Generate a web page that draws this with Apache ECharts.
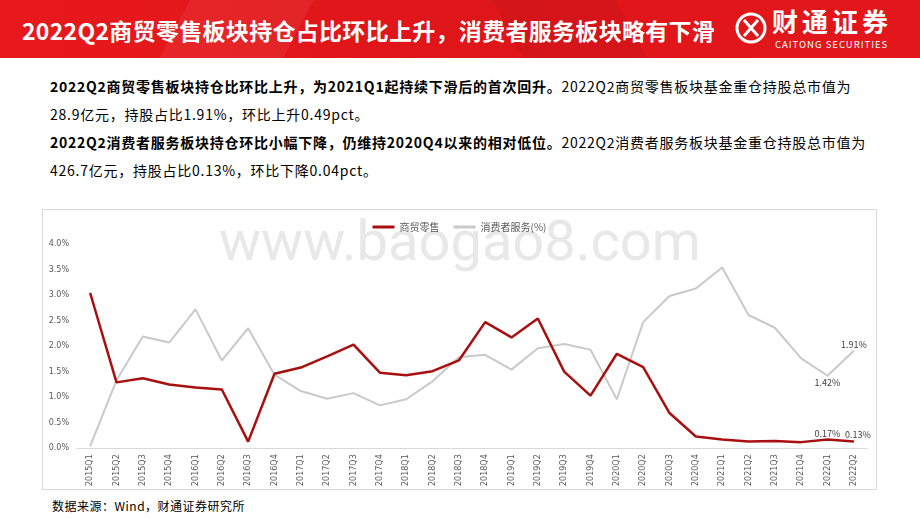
<!DOCTYPE html>
<html>
<head>
<meta charset="utf-8">
<script src="https://cdn.jsdelivr.net/npm/echarts@6/dist/echarts.min.js"></script>
<style>
  html,body{margin:0;padding:0;width:920px;height:518px;overflow:hidden;background:#fff;font-family:"Noto Sans CJK SC","Noto Sans",sans-serif;}
  #header{position:absolute;left:0;top:0;width:920px;height:58px;
    background:
      linear-gradient(118deg, rgba(255,255,255,0) 0%, rgba(255,255,255,0) 20%, rgba(255,255,255,0.06) 20%, rgba(255,255,255,0.06) 33%, rgba(0,0,0,0) 33%),
      linear-gradient(62deg, rgba(0,0,0,0) 55%, rgba(0,0,0,0.05) 55%, rgba(0,0,0,0.05) 68%, rgba(0,0,0,0) 68%),
      linear-gradient(90deg, #e8191c 0%, #de1519 50%, #e3171b 100%);}
  #title{position:absolute;left:22px;top:14px;color:#fff;font-size:23px;font-weight:bold;letter-spacing:0.3px;white-space:nowrap;line-height:32px;}
  #logo{position:absolute;left:734px;top:9px;}
  #logoTxt{position:absolute;left:772px;top:5px;color:#fff;font-size:26px;font-weight:bold;letter-spacing:4px;line-height:32px;}
  #logoEn{position:absolute;left:775px;top:39px;color:#fff;font-size:9.5px;line-height:11px;letter-spacing:1px;}
  #text{position:absolute;left:50px;top:72px;font-size:14px;line-height:28px;letter-spacing:0.75px;color:#000;white-space:nowrap;}
  #text b{font-weight:bold;}
  #box{position:absolute;left:42px;top:209px;width:833px;height:279px;border:1px solid #d9d9d9;}
  #chart{width:833px;height:279px;}
  #src{position:absolute;left:52px;top:497px;font-size:12px;line-height:18px;color:#000;letter-spacing:0.5px;}
</style>
</head>
<body>
<div id="header">
  <div id="title">2022Q2商贸零售板块持仓占比环比上升，消费者服务板块略有下滑</div>
  <svg id="logo" width="34" height="40" viewBox="0 0 34 40">
    <circle cx="17" cy="19" r="14" fill="none" stroke="#fff" stroke-width="3"/>
    <path d="M10 11 L17 19 L10 27 M24 11 L17 19 L24 27" fill="none" stroke="#fff" stroke-width="3"/>
  </svg>
  <div id="logoTxt">财通证券</div>
  <div id="logoEn">CAITONG SECURITIES</div>
</div>
<div id="text">
  <b>2022Q2商贸零售板块持仓比环比上升，为2021Q1起持续下滑后的首次回升。</b>2022Q2商贸零售板块基金重仓持股总市值为<br>
  28.9亿元，持股占比1.91%，环比上升0.49pct。<br>
  <b>2022Q2消费者服务板块持仓环比小幅下降，仍维持2020Q4以来的相对低位。</b>2022Q2消费者服务板块基金重仓持股总市值为<br>
  426.7亿元，持股占比0.13%，环比下降0.04pct。
</div>
<div id="box"><div id="chart"></div></div>
<div id="src">数据来源：Wind，财通证券研究所</div>
<script>
var categories = ['2015Q1','2015Q2','2015Q3','2015Q4','2016Q1','2016Q2','2016Q3','2016Q4',
  '2017Q1','2017Q2','2017Q3','2017Q4','2018Q1','2018Q2','2018Q3','2018Q4',
  '2019Q1','2019Q2','2019Q3','2019Q4','2020Q1','2020Q2','2020Q3','2020Q4',
  '2021Q1','2021Q2','2021Q3','2021Q4','2022Q1','2022Q2'];
var retail = [3.04,1.29,1.37,1.25,1.19,1.15,0.13,1.46,1.58,1.80,2.03,1.48,1.43,1.51,1.72,2.47,
  2.17,2.54,1.50,1.03,1.85,1.59,0.69,0.23,0.17,0.13,0.14,0.12,0.17,0.13];
var consumer = [0.04,1.33,2.19,2.07,2.72,1.72,2.35,1.44,1.12,0.97,1.08,0.84,0.96,1.31,1.78,1.83,
  1.54,1.96,2.04,1.93,0.96,2.47,2.98,3.13,3.54,2.61,2.36,1.76,1.42,1.91];
var yTicks = [0,0.5,1,1.5,2,2.5,3,3.5,4];
var seriesNames = ['商贸零售','消费者服务(%)'];

function withLabels(arr, cfg){
  return arr.map(function(v,i){
    var c = cfg[i];
    if(!c) return v;
    return {value:v, label:Object.assign({show:true, formatter:function(p){return p.value.toFixed(2)+'%';},
      color:'#404040', fontSize:9, fontFamily:'"Noto Sans CJK SC", sans-serif'}, c)};
  });
}
var n = categories.length;
var retailCfg = {}; retailCfg[n-2] = {position:'top', distance:1}; retailCfg[n-1] = {position:'top', distance:2, offset:[4,0]};
var consCfg = {}; consCfg[n-2] = {position:'bottom', distance:2}; consCfg[n-1] = {position:'top', distance:1};

var chart = echarts.init(document.getElementById('chart'), null, {renderer:'canvas'});
chart.setOption({
  animation:false,
  graphic:[{type:'text', left:176, top:8, z:-1, silent:true,
    style:{text:'www.baogao8.com', fontSize:56, fill:'#e8e8e8', fontFamily:'Roboto, "Liberation Sans", sans-serif'}}],
  legend:{top:7, left:'center', itemWidth:22, itemHeight:3, itemGap:14, icon:'rect',
    textStyle:{color:'#595959', fontSize:10, fontFamily:'"Noto Sans CJK SC", sans-serif'},
    data:seriesNames},
  grid:{left:34, right:9, top:34, bottom:37},
  xAxis:{type:'category', data:categories, boundaryGap:true,
    axisLine:{lineStyle:{color:'#d9d9d9'}}, axisTick:{show:false},
    axisLabel:{rotate:90, color:'#595959', fontSize:8, margin:6, fontFamily:'"DejaVu Sans", sans-serif'}},
  yAxis:{type:'value', min:yTicks[0], max:yTicks[yTicks.length-1], interval:0.5,
    splitLine:{show:false}, axisLine:{show:false}, axisTick:{show:false},
    axisLabel:{color:'#595959', fontSize:8, margin:8, formatter:function(v){return v.toFixed(1)+'%';}, fontFamily:'"DejaVu Sans", sans-serif'}},
  series:[
    {name:seriesNames[0], type:'line', data:withLabels(retail, retailCfg), symbol:'circle', symbolSize:1, showSymbol:true,
      lineStyle:{color:'#a8100f', width:2.5}, itemStyle:{color:'#a8100f'}, z:3},
    {name:seriesNames[1], type:'line', data:withLabels(consumer, consCfg), symbol:'circle', symbolSize:1, showSymbol:true,
      lineStyle:{color:'#c9c9c9', width:2}, itemStyle:{color:'#c9c9c9'}, z:2}
  ]
});
</script>
</body>
</html>
